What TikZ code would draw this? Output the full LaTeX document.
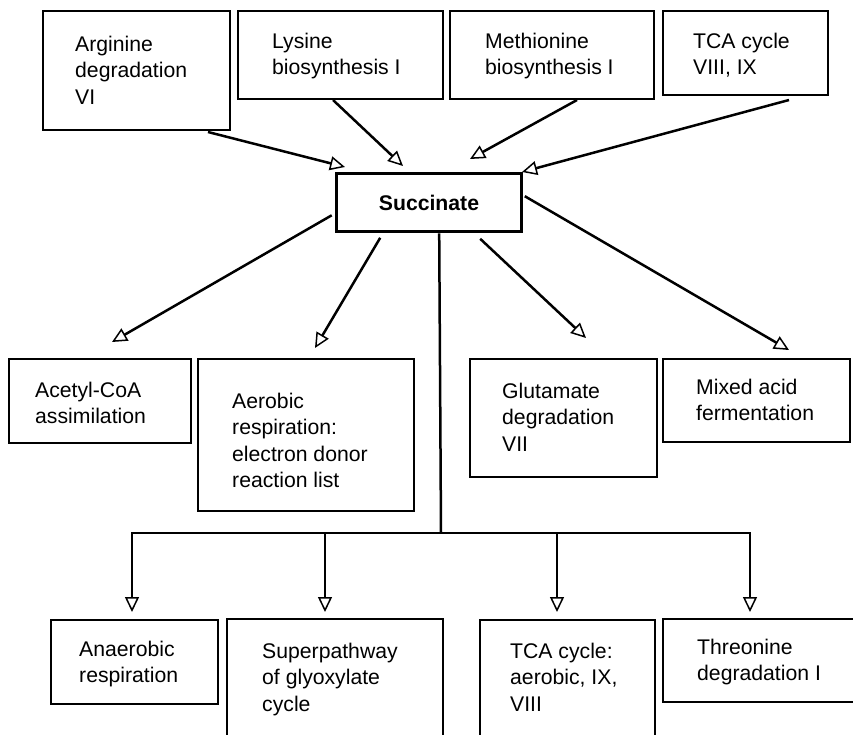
\documentclass[tikz,border=0pt]{standalone}
\usepackage{fontspec}
\setmainfont{Liberation Sans}
\usetikzlibrary{arrows.meta,calc}

\begin{document}
\begin{tikzpicture}[x=1pt,y=-1pt,
  box/.style={draw, line width=2pt, anchor=north west, inner sep=0pt},
  hubbox/.style={draw, line width=3.6pt, inner sep=0pt, font=\fontsize{21.2}{26.3}\selectfont\bfseries},
  lbl/.style={anchor=north west, inner sep=0pt, align=left, font=\fontsize{21.2}{26.3}\selectfont},
  flow/.style={line width=2.5pt, -{Triangle[open, length=15pt, width=14pt, line width=1.5pt]}},
  bus/.style={line width=2.5pt}]
\path[use as bounding box] (0,0) rectangle (853,734);
\clip (0,0) rectangle (853,734);

% pathways feeding succinate
\node[box, minimum width=187pt, minimum height=119pt] (arg) at (42,10) {};
\node[lbl] (argt) at (75,36) {Arginine\\degradation\\VI};
\node[box, minimum width=205pt, minimum height=88pt] (lys) at (237,10) {};
\node[lbl] (lyst) at (272,33) {Lysine\\biosynthesis I};
\node[box, minimum width=204pt, minimum height=88pt] (met) at (449,10) {};
\node[lbl] (mett) at (485,33) {Methionine\\biosynthesis I};
\node[box, minimum width=165pt, minimum height=84pt] (tcat) at (662,10) {};
\node[lbl] (tcatt) at (693,33) {TCA cycle\\VIII, IX};

% central metabolite
\node[hubbox, minimum width=185pt, minimum height=58pt] (succ) at (429,202.5) {Succinate};

% pathways consuming succinate
\node[box, minimum width=182pt, minimum height=84pt] (acet) at (8,358) {};
\node[lbl] (acett) at (35,382) {Acetyl-CoA\\assimilation};
\node[box, minimum width=216pt, minimum height=152pt] (aero) at (197,358) {};
\node[lbl] (aerot) at (232,393) {Aerobic\\respiration:\\electron donor\\reaction list};
\node[box, minimum width=187pt, minimum height=118pt] (glu) at (469,358) {};
\node[lbl] (glut) at (502,383) {Glutamate\\degradation\\VII};
\node[box, minimum width=187pt, minimum height=83pt] (mix) at (662,358) {};
\node[lbl] (mixt) at (696,379) {Mixed acid\\fermentation};

\node[box, minimum width=167pt, minimum height=84pt] (anae) at (50,619) {};
\node[lbl] (anaet) at (79,641) {Anaerobic\\respiration};
\node[box, minimum width=216pt, minimum height=142pt] (sup) at (226,618) {};
\node[lbl] (supt) at (262,643) {Superpathway\\of glyoxylate\\cycle};
\node[box, minimum width=175pt, minimum height=141pt] (tcab) at (479,619) {};
\node[lbl] (tcabt) at (510,643) {TCA cycle:\\aerobic, IX,\\VIII};
\node[box, minimum width=220pt, minimum height=83pt] (thr) at (662,618) {};
\node[lbl] (thrt) at (697,639) {Threonine\\degradation I};

% arrow tips
\coordinate (targ) at (345,167);
\coordinate (tlys) at (403,166);
\coordinate (tmet) at (470,159);
\coordinate (ttca) at (522,172);
\coordinate (tacet) at (112,342);
\coordinate (taero) at (315,348);
\coordinate (tglu) at (586,338);
\coordinate (tmix) at (789,350);

% distribution bus below succinate
\coordinate (hub) at (441,533);
\coordinate (j1) at (132,533);
\coordinate (j2) at (325,533);
\coordinate (j3) at (557,533);
\coordinate (j4) at (750,533);
\coordinate (d1) at (132,612);
\coordinate (d2) at (325,612);
\coordinate (d3) at (557,612);
\coordinate (d4) at (750,612);

% incoming connectors
\draw[flow] ($(arg.south west)+(166,1)$) -- (targ);
\draw[flow] ($(lys.south west)+(96,0)$) -- (tlys);
\draw[flow] ($(met.south west)+(128,0)$) -- (tmet);
\draw[flow] ($(tcat.south west)+(127,4)$) -- (ttca);

% outgoing connectors
\draw[flow] ($(succ.south west)+(-3,-18)$) -- (tacet);
\draw[flow] ($(succ.south west)+(45.5,4.5)$) -- (taero);
\draw[flow] ($(succ.south west)+(145.5,5.5)$) -- (tglu);
\draw[flow] ($(succ.north east)+(1.5,24.5)$) -- (tmix);

\draw[bus] ($(succ.south west)+(104.5,0)$) -- (hub);
\draw[bus, line cap=rect] (j1) -- (j4);
\draw[flow] (j1) -- (d1);
\draw[flow] (j2) -- (d2);
\draw[flow] (j3) -- (d3);
\draw[flow] (j4) -- (d4);
\end{tikzpicture}
\end{document}
